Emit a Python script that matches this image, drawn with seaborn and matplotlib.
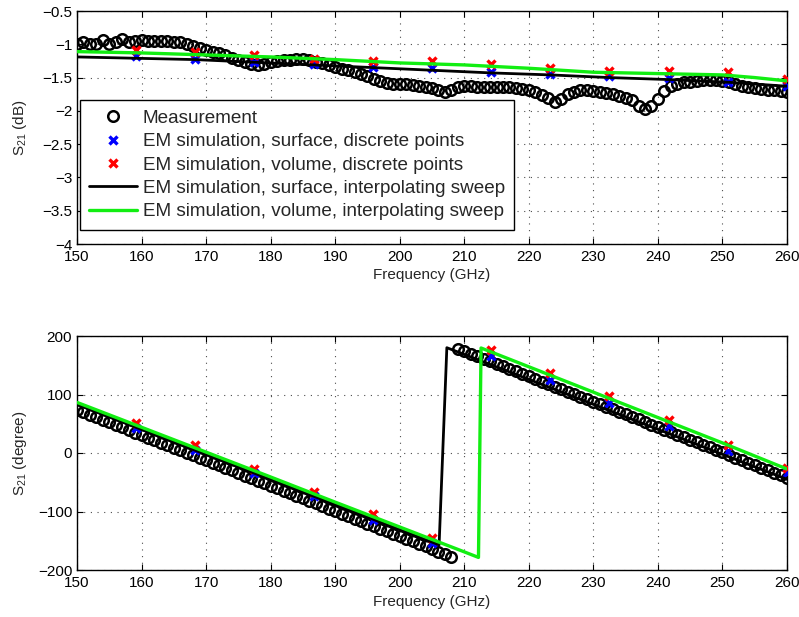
import matplotlib
matplotlib.use("Agg")
import matplotlib.pyplot as plt
import seaborn as sns
import pandas as pd

# ---------------- data ----------------
freq_meas = list(range(150, 261))
mag_meas = [
    -1.00, -0.96, -1.00, -1.00, -0.94, -0.99, -0.97, -0.92, -0.96, -0.95,
    -0.94, -0.95, -0.95, -0.95, -0.95, -0.96, -0.97, -1.00, -1.02, -1.05,
    -1.08, -1.11, -1.13, -1.16, -1.20, -1.23, -1.27, -1.29, -1.31, -1.30,
    -1.27, -1.25, -1.24, -1.23, -1.22, -1.22, -1.23, -1.26, -1.28, -1.31,
    -1.34, -1.37, -1.39, -1.42, -1.45, -1.48, -1.52, -1.55, -1.58, -1.59,
    -1.59, -1.59, -1.61, -1.63, -1.64, -1.66, -1.69, -1.71, -1.68, -1.64,
    -1.62, -1.63, -1.64, -1.64, -1.64, -1.64, -1.64, -1.64, -1.65, -1.67,
    -1.69, -1.72, -1.76, -1.80, -1.86, -1.82, -1.75, -1.71, -1.69, -1.69,
    -1.70, -1.71, -1.73, -1.75, -1.77, -1.80, -1.84, -1.92, -1.97, -1.92,
    -1.82, -1.70, -1.63, -1.59, -1.57, -1.56, -1.55, -1.54, -1.54, -1.54,
    -1.55, -1.56, -1.59, -1.62, -1.64, -1.66, -1.67, -1.68, -1.69, -1.70,
    -1.72]
phase_meas = [
    74.0, 69.7, 65.3, 61.0, 56.7, 52.4, 48.0, 43.7, 39.4, 35.0,
    30.7, 26.4, 22.0, 17.7, 13.4, 9.1, 4.7, 0.4, -3.9, -8.3,
    -12.6, -16.9, -21.3, -25.6, -29.9, -34.3, -38.6, -42.9, -47.2, -51.6,
    -55.9, -60.2, -64.6, -68.9, -73.2, -77.6, -81.9, -86.2, -90.5, -94.9,
    -99.2, -103.5, -107.9, -112.2, -116.5, -120.9, -125.2, -129.5, -133.8, -138.2,
    -142.5, -146.8, -151.2, -155.5, -159.8, -164.2, -168.5, -172.8, -177.1, 178.5,
    174.2, 169.8, 165.5, 161.2, 156.9, 152.5, 148.2, 143.9, 139.5, 135.2,
    130.9, 126.5, 122.2, 117.9, 113.6, 109.2, 104.9, 100.6, 96.2, 91.9,
    87.6, 83.2, 78.9, 74.6, 70.3, 65.9, 61.6, 57.3, 52.9, 48.6,
    44.3, 39.9, 35.6, 31.3, 26.9, 22.6, 18.3, 14.0, 9.6, 5.3,
    1.0, -3.4, -7.7, -12.0, -16.4, -20.7, -25.0, -29.3, -33.7, -38.0,
    -42.3]

freq_disc = [159.17, 168.33, 177.5, 186.67, 195.83, 205.0, 214.17, 223.33,
             232.5, 241.67, 250.83, 260.0]
mag_surf_disc = [-1.18, -1.22, -1.26, -1.30, -1.34, -1.36, -1.42, -1.45,
                 -1.48, -1.50, -1.57, -1.62]
mag_vol_disc = [-1.09, -1.12, -1.16, -1.22, -1.25, -1.25, -1.30, -1.35,
                -1.40, -1.40, -1.42, -1.52]
phase_surf_disc = [42.7, 5.6, -34.0, -74.0, -114.0, -154.0, 165.0, 125.0,
                   85.5, 45.5, 2.8, -34.0]
phase_vol_disc = [51.0, 14.0, -27.0, -66.0, -104.0, -145.0, 176.6, 137.0,
                  97.0, 57.0, 14.0, -26.0]

freq_mag_surf_sweep = [150, 159.17, 168.33, 177.5, 186.67, 195.83, 205, 214.17,
                       223.33, 232.5, 241.67, 250.83, 260]
mag_surf_sweep = [-1.19, -1.21, -1.23, -1.27, -1.31, -1.35, -1.39, -1.43,
                  -1.46, -1.50, -1.53, -1.57, -1.63]
freq_mag_vol_sweep = [150, 160, 170, 180, 190, 200, 210, 220, 230, 240, 250, 255, 260]
mag_vol_sweep = [-1.11, -1.13, -1.16, -1.19, -1.23, -1.28, -1.31, -1.36,
                 -1.42, -1.44, -1.46, -1.50, -1.55]

freq_ph_surf_sweep = [150, 160, 170, 180, 190, 200, 206.1, 207.3, 210, 220,
                      230, 240, 250, 260]
phase_surf_sweep = [83.0, 40.2, -2.6, -45.3, -88.1, -130.9, -157.0, 180.0,
                    168.5, 125.8, 83.1, 40.4, -2.3, -45.0]
freq_ph_vol_sweep = [150, 160, 170, 180, 190, 200, 210, 212.2, 212.6, 220,
                     230, 240, 250, 260]
phase_vol_sweep = [86.5, 44.0, 1.5, -41.0, -84.0, -126.5, -169.0, -178.5,
                   179.5, 147.4, 104.0, 60.6, 17.2, -27.4]

x_ticks = [150, 160, 170, 180, 190, 200, 210, 220, 230, 240, 250, 260]
mag_ticks = [-4, -3.5, -3, -2.5, -2, -1.5, -1, -0.5]
mag_tick_labels = ["\u22124", "\u22123.5", "\u22123", "\u22122.5", "\u22122",
                   "\u22121.5", "\u22121", "\u22120.5"]
phase_ticks = [-200, -100, 0, 100, 200]
phase_tick_labels = ["\u2212200", "\u2212100", "0", "100", "200"]

labels = ["Measurement",
          "EM simulation, surface, discrete points",
          "EM simulation, volume, discrete points",
          "EM simulation, surface, interpolating sweep",
          "EM simulation, volume, interpolating sweep"]

# ---------------- style ----------------
sns.set_theme(style="white")
plt.rcParams['font.family'] = ['Liberation Sans', 'DejaVu Sans']
plt.rcParams['mathtext.default'] = 'regular'
plt.rcParams['axes.unicode_minus'] = True

GREEN = '#12ee12'
BLUE = '#0000ff'
RED = '#ff0000'
W, H = 799, 617
fig = plt.figure(figsize=(W / 100, H / 100), dpi=100)
ax1 = fig.add_axes([77 / W, 1 - 244 / H, 710 / W, 233 / H])
ax2 = fig.add_axes([77 / W, 1 - 570 / H, 710 / W, 234 / H])


def panel(ax, meas, surf_d, vol_d, fs, ss, fv, vs):
    sns.lineplot(x=freq_meas, y=meas, ax=ax, estimator=None, sort=False,
                 linestyle='none', marker='o', markersize=7.6,
                 markerfacecolor='none', markeredgecolor='black',
                 markeredgewidth=1.8, color='black', label=labels[0], zorder=2)
    sns.lineplot(x=freq_disc, y=surf_d, ax=ax, estimator=None, sort=False,
                 linestyle='none', marker='x', markersize=5.2,
                 markeredgewidth=2.4, markeredgecolor=BLUE, color=BLUE,
                 label=labels[1], zorder=3)
    sns.lineplot(x=freq_disc, y=vol_d, ax=ax, estimator=None, sort=False,
                 linestyle='none', marker='x', markersize=5.2,
                 markeredgewidth=2.4, markeredgecolor=RED, color=RED,
                 label=labels[2], zorder=3)
    sns.lineplot(x=fs, y=ss, ax=ax, estimator=None, sort=False,
                 color='black', linewidth=2.0, label=labels[3], zorder=4)
    sns.lineplot(x=fv, y=vs, ax=ax, estimator=None, sort=False,
                 color=GREEN, linewidth=2.4, label=labels[4], zorder=5)
    ax.set_xlim(150, 260)
    ax.set_xticks(x_ticks)
    ax.set_xticklabels([str(t) for t in x_ticks])
    ax.grid(True, color='black', linestyle=(0, (1, 5)), linewidth=0.8, alpha=0.7)
    ax.tick_params(axis='both', which='both', direction='in', length=4,
                   width=0.8, labelsize=11, top=True, right=True,
                   bottom=True, left=True, colors='black')
    ax.tick_params(axis='x', pad=4)
    ax.tick_params(axis='y', pad=3.5)
    for s in ax.spines.values():
        s.set_visible(True)
        s.set_color('black')
        s.set_linewidth(1.0)
    ax.set_xlabel("Frequency (GHz)", fontsize=11)
    ax.xaxis.set_label_coords(0.5, -0.105)


panel(ax1, mag_meas, mag_surf_disc, mag_vol_disc,
      freq_mag_surf_sweep, mag_surf_sweep, freq_mag_vol_sweep, mag_vol_sweep)
ax1.set_ylim(-4, -0.5)
ax1.set_yticks(mag_ticks)
ax1.set_yticklabels(mag_tick_labels)
ax1.set_ylabel("S$_{21}$ (dB)", fontsize=11)
ax1.yaxis.set_label_coords(-0.068, 0.5)

panel(ax2, phase_meas, phase_surf_disc, phase_vol_disc,
      freq_ph_surf_sweep, phase_surf_sweep, freq_ph_vol_sweep, phase_vol_sweep)
ax2.set_ylim(-200, 200)
ax2.set_yticks(phase_ticks)
ax2.set_yticklabels(phase_tick_labels)
ax2.set_ylabel("S$_{21}$ (degree)", fontsize=11)
ax2.yaxis.set_label_coords(-0.068, 0.5)
ax2.get_legend().remove()

handles, labs = ax1.get_legend_handles_labels()
ax1.get_legend().remove()
leg = ax1.legend(handles, labs, loc='upper left',
                 bbox_to_anchor=(0.004, 0.618), borderaxespad=0,
                 fontsize=13.6, frameon=True, fancybox=False, framealpha=1,
                 edgecolor='black', handlelength=2.5, handletextpad=0.32,
                 labelspacing=0.33, borderpad=0.5)
leg.get_frame().set_linewidth(1.0)

fig.savefig("out.png", dpi=100)
